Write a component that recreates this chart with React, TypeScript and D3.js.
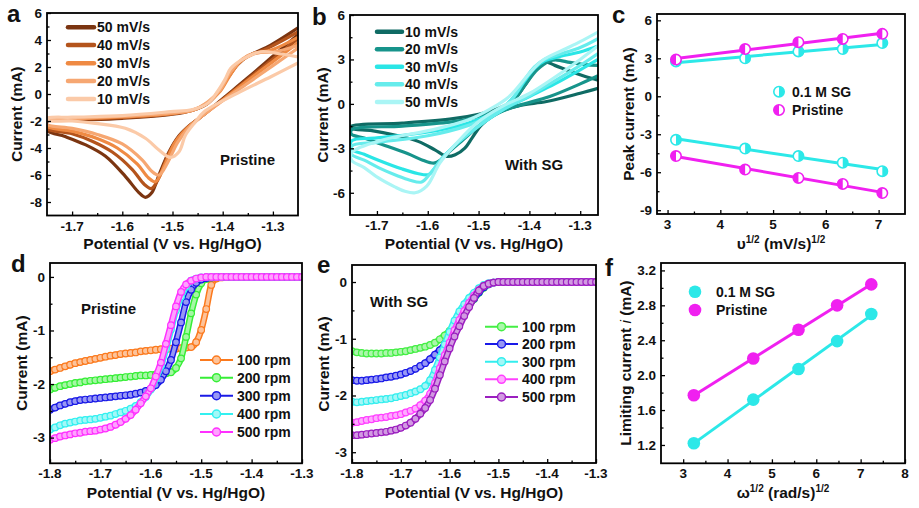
import { useEffect, useRef } from "react";
import * as d3 from "d3";

type Pt = [number, number];

const FONT = "Arial, 'Liberation Sans', Helvetica, sans-serif";

// ---------- (a) CV, pristine: [potential V, current mA], cathodic sweep then anodic sweep
const cvPristineLabels = ["50 mV/s", "40 mV/s", "30 mV/s", "20 mV/s", "10 mV/s"];
const cvPristineColors = ["#7b3511", "#b4541c", "#ef8a43", "#f6a772", "#fbcaa8"];
const cvPristine50: Pt[] = [
  [-1.25, 4.4], [-1.3, 2.8], [-1.35, 1.2], [-1.4, -0.35], [-1.44, -1.6], [-1.465, -2.3], [-1.487, -3.1],
  [-1.507, -4.3], [-1.527, -6.0], [-1.541, -7.3], [-1.554, -7.65], [-1.567, -7.3], [-1.594, -6.1],
  [-1.634, -4.6], [-1.674, -3.75], [-1.714, -3.15], [-1.75, -2.7],
  [-1.75, -2.05], [-1.7, -1.95], [-1.6, -1.8], [-1.5, -1.5], [-1.46, -1.2], [-1.43, -0.7], [-1.41, 0.1],
  [-1.39, 1.2], [-1.37, 2.2], [-1.35, 2.8], [-1.31, 3.5], [-1.25, 4.9],
];
const cvPristine40: Pt[] = [
  [-1.25, 4.1], [-1.3, 2.6], [-1.35, 1.1], [-1.4, -0.4], [-1.44, -1.6], [-1.47, -2.5], [-1.49, -3.3],
  [-1.51, -4.6], [-1.527, -6.2], [-1.542, -7.0], [-1.556, -6.7], [-1.58, -5.6], [-1.62, -4.3],
  [-1.66, -3.5], [-1.7, -2.95], [-1.75, -2.55],
  [-1.75, -2.0], [-1.7, -1.9], [-1.6, -1.75], [-1.5, -1.45], [-1.46, -1.2], [-1.43, -0.7], [-1.41, 0.1],
  [-1.39, 1.2], [-1.37, 2.2], [-1.35, 2.8], [-1.31, 3.4], [-1.25, 4.6],
];
const cvPristine30: Pt[] = [
  [-1.25, 3.8], [-1.3, 2.4], [-1.35, 1.0], [-1.4, -0.45], [-1.44, -1.6], [-1.47, -2.5], [-1.495, -3.6],
  [-1.515, -5.2], [-1.534, -6.5], [-1.548, -6.2], [-1.57, -5.2], [-1.61, -4.0], [-1.65, -3.3],
  [-1.7, -2.75], [-1.75, -2.4],
  [-1.75, -1.95], [-1.7, -1.85], [-1.6, -1.7], [-1.5, -1.45], [-1.46, -1.2], [-1.43, -0.65], [-1.405, 0.2],
  [-1.385, 1.4], [-1.365, 2.4], [-1.34, 2.95], [-1.3, 3.3], [-1.25, 4.2],
];
const cvPristine20: Pt[] = [
  [-1.25, 3.4], [-1.3, 2.1], [-1.35, 0.8], [-1.4, -0.5], [-1.44, -1.6], [-1.47, -2.6], [-1.49, -3.6],
  [-1.51, -5.1], [-1.527, -6.0], [-1.542, -5.7], [-1.56, -4.9], [-1.6, -3.7], [-1.65, -3.0],
  [-1.7, -2.55], [-1.75, -2.25],
  [-1.75, -1.9], [-1.7, -1.8], [-1.6, -1.65], [-1.5, -1.4], [-1.46, -1.2], [-1.43, -0.6], [-1.405, 0.3],
  [-1.385, 1.6], [-1.36, 2.6], [-1.335, 3.05], [-1.3, 3.1], [-1.25, 3.6],
];
const cvPristine10: Pt[] = [
  [-1.25, 2.3], [-1.304, 1.28], [-1.371, 0.05], [-1.437, -1.31], [-1.454, -2.05], [-1.474, -3.04],
  [-1.487, -4.27], [-1.504, -4.69], [-1.527, -4.15], [-1.554, -3.28], [-1.594, -2.54], [-1.654, -2.17],
  [-1.7, -2.0], [-1.75, -1.95],
  [-1.75, -1.8], [-1.7, -1.72], [-1.6, -1.6], [-1.504, -1.31], [-1.46, -1.15], [-1.43, -0.7], [-1.41, 0.2],
  [-1.395, 1.1], [-1.384, 1.9], [-1.357, 2.64], [-1.324, 3.13], [-1.29, 3.0], [-1.25, 2.75],
];
const cvPristineCurves = [cvPristine50, cvPristine40, cvPristine30, cvPristine20, cvPristine10];

// ---------- (b) CV, with SG
const cvSgLabels = ["10 mV/s", "20 mV/s", "30 mV/s", "40 mV/s", "50 mV/s"];
const cvSgColors = ["#0f6b64", "#17948b", "#2ae6e6", "#66ecec", "#aaf5f5"];
const cvSg10: Pt[] = [
  [-1.265, 1.05], [-1.3, 0.72], [-1.366, 0.16], [-1.418, -0.1], [-1.46, -0.55], [-1.494, -1.41],
  [-1.513, -2.31], [-1.527, -2.98], [-1.546, -3.43], [-1.563, -3.54], [-1.586, -3.1], [-1.619, -2.53],
  [-1.665, -2.1], [-1.71, -1.8], [-1.75, -1.65],
  [-1.75, -1.5], [-1.65, -1.3], [-1.55, -1.0], [-1.5, -0.7], [-1.46, -0.3], [-1.43, 0.3], [-1.41, 1.2],
  [-1.39, 2.2], [-1.372, 2.85], [-1.35, 2.6], [-1.32, 2.2], [-1.29, 1.85], [-1.265, 1.6],
];
const cvSg20: Pt[] = [
  [-1.265, 1.9], [-1.3, 1.35], [-1.36, 0.5], [-1.42, -0.1], [-1.46, -0.6], [-1.5, -1.5], [-1.53, -2.4],
  [-1.56, -3.3], [-1.575, -3.8], [-1.588, -4.0], [-1.61, -3.8], [-1.64, -3.35], [-1.697, -2.65],
  [-1.725, -2.3], [-1.75, -2.05],
  [-1.75, -1.75], [-1.65, -1.5], [-1.55, -1.2], [-1.5, -0.85], [-1.46, -0.35], [-1.43, 0.3], [-1.41, 1.2],
  [-1.385, 2.3], [-1.36, 2.9], [-1.346, 2.96], [-1.32, 2.8], [-1.29, 2.65], [-1.265, 2.6],
];
const cvSg30: Pt[] = [
  [-1.265, 3.0], [-1.3, 2.3], [-1.35, 1.35], [-1.4, 0.5], [-1.45, -0.35], [-1.5, -1.5], [-1.54, -2.6],
  [-1.57, -3.6], [-1.59, -4.5], [-1.599, -4.78], [-1.62, -4.7], [-1.65, -4.4], [-1.697, -3.8],
  [-1.725, -3.4], [-1.75, -3.05],
  [-1.75, -2.5], [-1.7, -2.3], [-1.6, -1.9], [-1.52, -1.3], [-1.48, -0.75], [-1.45, -0.2], [-1.43, 0.5],
  [-1.41, 1.5], [-1.39, 2.4], [-1.37, 2.9], [-1.34, 3.2], [-1.3, 3.5], [-1.265, 3.9],
];
const cvSg40: Pt[] = [
  [-1.265, 3.4], [-1.3, 2.6], [-1.35, 1.55], [-1.4, 0.55], [-1.45, -0.35], [-1.5, -1.5], [-1.54, -2.6],
  [-1.57, -3.6], [-1.595, -4.7], [-1.612, -5.27], [-1.635, -5.15], [-1.66, -4.85], [-1.697, -4.3],
  [-1.725, -3.8], [-1.75, -3.4],
  [-1.75, -2.85], [-1.7, -2.6], [-1.6, -2.15], [-1.52, -1.45], [-1.48, -0.85], [-1.45, -0.25], [-1.43, 0.5],
  [-1.41, 1.6], [-1.39, 2.5], [-1.37, 3.0], [-1.34, 3.35], [-1.3, 3.8], [-1.265, 4.4],
];
const cvSg50: Pt[] = [
  [-1.265, 3.9], [-1.3, 3.0], [-1.35, 1.8], [-1.4, 0.7], [-1.455, -0.2], [-1.504, -1.3], [-1.543, -2.64],
  [-1.576, -3.98], [-1.602, -5.55], [-1.625, -6.0], [-1.645, -5.9], [-1.665, -5.6], [-1.697, -5.0],
  [-1.725, -4.3], [-1.75, -3.8],
  [-1.75, -3.3], [-1.687, -2.42], [-1.589, -1.74], [-1.52, -1.07], [-1.48, -0.4], [-1.44, 0.49],
  [-1.4, 2.06], [-1.374, 2.95], [-1.335, 3.62], [-1.3, 4.2], [-1.265, 4.85],
];
const cvSgCurves = [cvSg10, cvSg20, cvSg30, cvSg40, cvSg50];

// ---------- (c) peak current vs sqrt(scan rate)
const sqrtScanRate = [3.16, 4.47, 5.48, 6.32, 7.07];
const peakSgAnodic = [2.75, 3.0, 3.54, 3.73, 4.2];
const peakSgCathodic = [-3.44, -4.13, -4.72, -5.25, -5.92];
const peakPristineAnodic = [2.9, 3.73, 4.27, 4.53, 4.93];
const peakPristineCathodic = [-4.72, -5.79, -6.45, -6.93, -7.65];

// ---------- (d)(e) LSV at 0.01 V steps
const lsvPotentials = [
  -1.8, -1.79, -1.78, -1.77, -1.76, -1.75, -1.74, -1.73, -1.72, -1.71, -1.7, -1.69, -1.68, -1.67, -1.66,
  -1.65, -1.64, -1.63, -1.62, -1.61, -1.6, -1.59, -1.58, -1.57, -1.56, -1.55, -1.54, -1.53, -1.52, -1.51,
  -1.5, -1.49, -1.48, -1.47, -1.46, -1.45, -1.44, -1.43, -1.42, -1.41, -1.4, -1.39, -1.38, -1.37, -1.36,
  -1.35, -1.34, -1.33, -1.32, -1.31, -1.3,
];
const rpmLabels = ["100 rpm", "200 rpm", "300 rpm", "400 rpm", "500 rpm"];

const lsvPristineColors = ["#fb7a1e", "#36ee36", "#1a1ae6", "#33f0f0", "#ff30ff"];
const lsvPristine100 = [
  -1.76, -1.73, -1.7, -1.67, -1.64, -1.61, -1.59, -1.57, -1.55, -1.53, -1.51, -1.49, -1.47, -1.46, -1.44,
  -1.43, -1.42, -1.41, -1.39, -1.38, -1.37, -1.36, -1.35, -1.35, -1.34, -1.34, -1.33, -1.32, -1.31, -1.22,
  -0.99, -0.6, -0.15, -0.03, -0.01, 0, 0, 0, 0, 0, 0, 0, 0, 0, 0, 0, 0, 0, 0, 0, 0,
];
const lsvPristine200 = [
  -2.1, -2.07, -2.04, -2.02, -2.0, -1.98, -1.97, -1.95, -1.94, -1.93, -1.92, -1.91, -1.9, -1.89, -1.88,
  -1.87, -1.86, -1.85, -1.84, -1.84, -1.83, -1.82, -1.81, -1.8, -1.78, -1.7, -1.52, -1.12, -0.68, -0.33,
  -0.12, -0.04, -0.01, 0, 0, 0, 0, 0, 0, 0, 0, 0, 0, 0, 0, 0, 0, 0, 0, 0, 0,
];
const lsvPristine300 = [
  -2.48, -2.44, -2.4, -2.37, -2.34, -2.32, -2.3, -2.29, -2.28, -2.27, -2.26, -2.25, -2.24, -2.23, -2.22,
  -2.21, -2.2, -2.18, -2.16, -2.13, -2.09, -2.02, -1.92, -1.76, -1.55, -1.22, -0.85, -0.47, -0.24, -0.11,
  -0.05, -0.02, -0.01, 0, 0, 0, 0, 0, 0, 0, 0, 0, 0, 0, 0, 0, 0, 0, 0, 0, 0,
];
const lsvPristine400 = [
  -2.85, -2.81, -2.77, -2.74, -2.72, -2.7, -2.68, -2.67, -2.66, -2.65, -2.63, -2.61, -2.59, -2.56, -2.53,
  -2.5, -2.46, -2.41, -2.34, -2.24, -2.1, -1.9, -1.67, -1.35, -0.98, -0.62, -0.37, -0.18, -0.07, -0.03,
  -0.01, 0, 0, 0, 0, 0, 0, 0, 0, 0, 0, 0, 0, 0, 0, 0, 0, 0, 0, 0, 0,
];
const lsvPristine500 = [
  -3.04, -3.01, -2.98, -2.96, -2.94, -2.92, -2.91, -2.89, -2.88, -2.87, -2.85, -2.83, -2.8, -2.76, -2.71,
  -2.65, -2.58, -2.48, -2.36, -2.23, -2.08, -1.86, -1.6, -1.25, -0.9, -0.55, -0.28, -0.14, -0.07, -0.03,
  -0.01, 0, 0, 0, 0, 0, 0, 0, 0, 0, 0, 0, 0, 0, 0, 0, 0, 0, 0, 0, 0,
];
const lsvPristineCurves = [lsvPristine100, lsvPristine200, lsvPristine300, lsvPristine400, lsvPristine500];

const lsvSgColors = ["#44ee44", "#1a1ae8", "#33eeee", "#ff40ff", "#9b1fbf"];
const lsvSg100 = [
  -1.22, -1.24, -1.25, -1.26, -1.26, -1.26, -1.26, -1.25, -1.25, -1.24, -1.23, -1.22, -1.2, -1.18, -1.16,
  -1.14, -1.11, -1.07, -1.01, -0.94, -0.86, -0.76, -0.64, -0.52, -0.41, -0.3, -0.19, -0.1, -0.04, -0.01,
  0, 0, 0, 0, 0, 0, 0, 0, 0, 0, 0, 0, 0, 0, 0, 0, 0, 0, 0, 0, 0,
];
const lsvSg200 = [
  -1.73, -1.74, -1.74, -1.73, -1.72, -1.71, -1.7, -1.68, -1.67, -1.65, -1.63, -1.6, -1.57, -1.53, -1.48,
  -1.43, -1.36, -1.28, -1.2, -1.1, -0.97, -0.83, -0.68, -0.54, -0.41, -0.29, -0.18, -0.09, -0.04, -0.01,
  0, 0, 0, 0, 0, 0, 0, 0, 0, 0, 0, 0, 0, 0, 0, 0, 0, 0, 0, 0, 0,
];
const lsvSg300 = [
  -2.11, -2.12, -2.11, -2.1, -2.09, -2.08, -2.07, -2.06, -2.05, -2.03, -2.01, -1.99, -1.96, -1.93, -1.89,
  -1.83, -1.73, -1.55, -1.33, -1.1, -0.88, -0.68, -0.52, -0.39, -0.28, -0.19, -0.11, -0.05, -0.02, -0.01,
  0, 0, 0, 0, 0, 0, 0, 0, 0, 0, 0, 0, 0, 0, 0, 0, 0, 0, 0, 0, 0,
];
const lsvSg400 = [
  -2.48, -2.47, -2.45, -2.43, -2.42, -2.4, -2.39, -2.38, -2.36, -2.35, -2.33, -2.3, -2.27, -2.23, -2.17,
  -2.09, -1.97, -1.78, -1.52, -1.29, -1.07, -0.85, -0.67, -0.51, -0.37, -0.24, -0.14, -0.07, -0.03, -0.01,
  0, 0, 0, 0, 0, 0, 0, 0, 0, 0, 0, 0, 0, 0, 0, 0, 0, 0, 0, 0, 0,
];
const lsvSg500 = [
  -2.7, -2.7, -2.69, -2.68, -2.67, -2.66, -2.65, -2.64, -2.62, -2.6, -2.57, -2.53, -2.48, -2.41, -2.32,
  -2.22, -2.08, -1.88, -1.64, -1.4, -1.17, -0.96, -0.78, -0.6, -0.44, -0.28, -0.15, -0.07, -0.03, -0.01,
  0, 0, 0, 0, 0, 0, 0, 0, 0, 0, 0, 0, 0, 0, 0, 0, 0, 0, 0, 0, 0,
];
const lsvSgCurves = [lsvSg100, lsvSg200, lsvSg300, lsvSg400, lsvSg500];

// ---------- (f) limiting current vs sqrt(rotation rate)
const sqrtRotation = [3.24, 4.58, 5.6, 6.47, 7.24];
const limitingSg = [1.22, 1.72, 2.07, 2.39, 2.7];
const limitingPristine = [1.77, 2.19, 2.52, 2.8, 3.04];

const CYAN = "#2ce8e8";
const MAGENTA = "#f020f0";

interface Box { l: number; t: number; r: number; b: number }
interface PanelCfg {
  id: string;
  box: Box;
  xDomain: [number, number];
  yDomain: [number, number];
  xTicks: number[];
  xMinor: number[];
  yTicks: number[];
  yMinor: number[];
  xFmt: (d: number) => string;
  yFmt: (d: number) => string;
}

function makePanel(svg: any, cfg: PanelCfg) {
  const { box } = cfg;
  const x = d3.scaleLinear().domain(cfg.xDomain).range([box.l, box.r]);
  const y = d3.scaleLinear().domain(cfg.yDomain).range([box.b, box.t]);

  svg
    .select("defs")
    .append("clipPath")
    .attr("id", cfg.id)
    .append("rect")
    .attr("x", box.l)
    .attr("y", box.t)
    .attr("width", box.r - box.l)
    .attr("height", box.b - box.t);

  const plot = svg.append("g").attr("clip-path", `url(#${cfg.id})`);
  return { x, y, plot, cfg };
}

function finishPanel(svg: any, p: any) {
  const { x, y, cfg } = p;
  const { box } = cfg;
  const g = svg.append("g");

  // inward ticks
  const addAxis = (axis: any, tr: string) => {
    const a = g.append("g").attr("transform", tr).call(axis);
    a.select(".domain").remove();
    a.selectAll("line").attr("stroke", "#000").attr("stroke-width", 1.3);
    a.selectAll("text").remove();
  };
  addAxis(d3.axisTop(x).tickValues(cfg.xTicks).tickSize(4).tickSizeOuter(0), `translate(0,${box.b})`);
  addAxis(d3.axisTop(x).tickValues(cfg.xMinor).tickSize(2.5).tickSizeOuter(0), `translate(0,${box.b})`);
  addAxis(d3.axisRight(y).tickValues(cfg.yTicks).tickSize(4).tickSizeOuter(0), `translate(${box.l},0)`);
  addAxis(d3.axisRight(y).tickValues(cfg.yMinor).tickSize(2.5).tickSizeOuter(0), `translate(${box.l},0)`);

  g.append("rect")
    .attr("x", box.l)
    .attr("y", box.t)
    .attr("width", box.r - box.l)
    .attr("height", box.b - box.t)
    .attr("fill", "none")
    .attr("stroke", "#000")
    .attr("stroke-width", 1.8);

  g.selectAll(".xl")
    .data(cfg.xTicks)
    .join("text")
    .attr("x", (d: number) => x(d))
    .attr("y", box.b + 15)
    .attr("text-anchor", "middle")
    .attr("font-family", FONT)
    .attr("font-weight", "bold")
    .attr("font-size", 13.5)
    .attr("fill", "#111")
    .text((d: number) => cfg.xFmt(d));

  g.selectAll(".yl")
    .data(cfg.yTicks)
    .join("text")
    .attr("x", box.l - 5)
    .attr("y", (d: number) => y(d))
    .attr("dy", "0.36em")
    .attr("text-anchor", "end")
    .attr("font-family", FONT)
    .attr("font-weight", "bold")
    .attr("font-size", 13.5)
    .attr("fill", "#111")
    .text((d: number) => cfg.yFmt(d));
}

function addText(svg: any, x: number, y: number, txt: string, size: number, anchor = "start") {
  return svg
    .append("text")
    .attr("x", x)
    .attr("y", y)
    .attr("text-anchor", anchor)
    .attr("font-family", FONT)
    .attr("font-weight", "bold")
    .attr("font-size", size)
    .attr("fill", "#111")
    .text(txt);
}

function addYTitle(svg: any, x: number, box: Box, txt: string) {
  return svg
    .append("text")
    .attr("transform", `translate(${x},${(box.t + box.b) / 2}) rotate(-90)`)
    .attr("dy", "0.36em")
    .attr("text-anchor", "middle")
    .attr("font-family", FONT)
    .attr("font-weight", "bold")
    .attr("font-size", 15.5)
    .attr("fill", "#111")
    .text(txt);
}

const fmtDec1 = (d: number) => d3.format(".1f")(d).replace("−", "-");
const fmtInt = (d: number) => d3.format("d")(d).replace("−", "-");

function drawCV(p: any, curves: Pt[][], colors: string[]) {
  const line = d3
    .line<Pt>()
    .x((d) => p.x(d[0]))
    .y((d) => p.y(d[1]))
    .curve(d3.curveCatmullRom.alpha(0.5));
  curves.forEach((c, i) => {
    p.plot
      .append("path")
      .attr("d", line(c))
      .attr("fill", "none")
      .attr("stroke", colors[i])
      .attr("stroke-width", 3.2)
      .attr("stroke-linejoin", "round");
  });
}

function drawCVLegend(svg: any, labels: string[], colors: string[], x0: number, x1: number, ys: number[]) {
  labels.forEach((lab, i) => {
    svg
      .append("line")
      .attr("x1", x0)
      .attr("x2", x1)
      .attr("y1", ys[i])
      .attr("y2", ys[i])
      .attr("stroke", colors[i])
      .attr("stroke-width", 4.5)
      .attr("stroke-linecap", "round");
    addText(svg, x1 + 3, ys[i] + 5, lab, 14);
  });
}

function ballFill(c: string) {
  return d3.interpolateRgb(c, "#ffffff")(0.55);
}

function drawLSV(p: any, curves: number[][], colors: string[]) {
  const line = d3
    .line<Pt>()
    .x((d) => p.x(d[0]))
    .y((d) => p.y(d[1]))
    .curve(d3.curveMonotoneX);
  curves.forEach((vals, i) => {
    const pts: Pt[] = vals.map((v, k) => [lsvPotentials[k], v]);
    const g = p.plot.append("g");
    // tube of overlapping symbols: coloured rim with a light core
    g.append("path")
      .attr("d", line(pts))
      .attr("fill", "none")
      .attr("stroke", colors[i])
      .attr("stroke-width", 6.6)
      .attr("stroke-linejoin", "round");
    g.append("path")
      .attr("d", line(pts))
      .attr("fill", "none")
      .attr("stroke", ballFill(colors[i]))
      .attr("stroke-width", 3.6)
      .attr("stroke-linejoin", "round");
    g.selectAll("circle")
      .data(pts)
      .join("circle")
      .attr("cx", (d: Pt) => p.x(d[0]))
      .attr("cy", (d: Pt) => p.y(d[1]))
      .attr("r", 3.3)
      .attr("fill", ballFill(colors[i]))
      .attr("stroke", colors[i])
      .attr("stroke-width", 1.2);
  });
}

function drawLSVLegend(svg: any, colors: string[], x0: number, x1: number, ys: number[]) {
  rpmLabels.forEach((lab, i) => {
    svg
      .append("line")
      .attr("x1", x0)
      .attr("x2", x1)
      .attr("y1", ys[i])
      .attr("y2", ys[i])
      .attr("stroke", colors[i])
      .attr("stroke-width", 2);
    svg
      .append("circle")
      .attr("cx", (x0 + x1) / 2)
      .attr("cy", ys[i])
      .attr("r", 4)
      .attr("fill", ballFill(colors[i]))
      .attr("stroke", colors[i])
      .attr("stroke-width", 1.5);
    addText(svg, x1 + 4, ys[i] + 5, lab, 14);
  });
}

function fit(xs: number[], ys: number[]) {
  const mx = d3.mean(xs)!;
  const my = d3.mean(ys)!;
  const sxy = d3.sum(xs, (v, i) => (v - mx) * (ys[i] - my));
  const sxx = d3.sum(xs, (v) => (v - mx) * (v - mx));
  const k = sxy / sxx;
  return (v: number) => my + k * (v - mx);
}

function halfMarker(g: any, cx: number, cy: number, r: number, color: string, leftFilled: boolean) {
  g.append("circle")
    .attr("cx", cx)
    .attr("cy", cy)
    .attr("r", r)
    .attr("fill", "#fff")
    .attr("stroke", color)
    .attr("stroke-width", 1.6);
  g.append("path")
    .attr("d", `M${cx},${cy - r} A${r},${r} 0 0 ${leftFilled ? 0 : 1} ${cx},${cy + r} Z`)
    .attr("fill", color);
}

export default function App() {
  const ref = useRef<SVGSVGElement | null>(null);

  useEffect(() => {
    if (!ref.current) return;
    const svg = d3.select(ref.current);
    svg.selectAll("*").remove();
    svg.append("defs");
    svg.append("rect").attr("width", 919).attr("height", 508).attr("fill", "#fff");

    // ---------- (a)
    const pa = makePanel(svg, {
      id: "clipA",
      box: { l: 47, t: 13, r: 298, b: 215.5 },
      xDomain: [-1.75, -1.25],
      yDomain: [-9, 6],
      xTicks: [-1.7, -1.6, -1.5, -1.4, -1.3],
      xMinor: [-1.65, -1.55, -1.45, -1.35],
      yTicks: [-8, -6, -4, -2, 0, 2, 4, 6],
      yMinor: [-7, -5, -3, -1, 1, 3, 5],
      xFmt: fmtDec1,
      yFmt: fmtInt,
    });
    drawCV(pa, cvPristineCurves, cvPristineColors);
    finishPanel(svg, pa);
    drawCVLegend(svg, cvPristineLabels, cvPristineColors, 68, 94, [27.3, 45, 63.3, 81, 99]);
    addText(svg, 220, 165, "Pristine", 15);
    addText(svg, 172.5, 249, "Potential (V vs. Hg/HgO)", 15.5, "middle");
    addYTitle(svg, 16, pa.cfg.box, "Current (mA)");
    addText(svg, 7, 22, "a", 24);

    // ---------- (b)
    const pb = makePanel(svg, {
      id: "clipB",
      box: { l: 350, t: 15, r: 598, b: 215 },
      xDomain: [-1.753, -1.265],
      yDomain: [-7.5, 6],
      xTicks: [-1.7, -1.6, -1.5, -1.4, -1.3],
      xMinor: [-1.65, -1.55, -1.45, -1.35],
      yTicks: [-6, -3, 0, 3, 6],
      yMinor: [-4.5, -1.5, 1.5, 4.5],
      xFmt: fmtDec1,
      yFmt: fmtInt,
    });
    drawCV(pb, cvSgCurves, cvSgColors);
    finishPanel(svg, pb);
    drawCVLegend(svg, cvSgLabels, cvSgColors, 377, 402, [31.7, 49.3, 66.7, 84.3, 102]);
    addText(svg, 505, 170, "With SG", 15);
    addText(svg, 474, 249, "Potential (V vs. Hg/HgO)", 15.5, "middle");
    addYTitle(svg, 322, pb.cfg.box, "Current (mA)");
    addText(svg, 312, 25, "b", 24);

    // ---------- (c)
    const pc = makePanel(svg, {
      id: "clipC",
      box: { l: 657, t: 14, r: 905, b: 214 },
      xDomain: [2.8, 7.5],
      yDomain: [-9.3, 6.5],
      xTicks: [3, 4, 5, 6, 7],
      xMinor: [3.5, 4.5, 5.5, 6.5],
      yTicks: [-9, -6, -3, 0, 3, 6],
      yMinor: [-7.5, -4.5, -1.5, 1.5, 4.5],
      xFmt: fmtInt,
      yFmt: fmtInt,
    });
    const cSeries: { ys: number[]; color: string; left: boolean }[] = [
      { ys: peakSgAnodic, color: CYAN, left: false },
      { ys: peakSgCathodic, color: CYAN, left: false },
      { ys: peakPristineAnodic, color: MAGENTA, left: true },
      { ys: peakPristineCathodic, color: MAGENTA, left: true },
    ];
    cSeries.forEach((s) => {
      const f = fit(sqrtScanRate, s.ys);
      const x0 = sqrtScanRate[0];
      const x1 = sqrtScanRate[sqrtScanRate.length - 1];
      pc.plot
        .append("line")
        .attr("x1", pc.x(x0))
        .attr("x2", pc.x(x1))
        .attr("y1", pc.y(f(x0)))
        .attr("y2", pc.y(f(x1)))
        .attr("stroke", s.color)
        .attr("stroke-width", 3);
    });
    cSeries.forEach((s) => {
      s.ys.forEach((v, i) => halfMarker(pc.plot, pc.x(sqrtScanRate[i]), pc.y(v), 5.2, s.color, s.left));
    });
    finishPanel(svg, pc);
    halfMarker(svg, 779, 91.7, 5.2, CYAN, false);
    halfMarker(svg, 779, 110, 5.2, MAGENTA, true);
    addText(svg, 792, 96.5, "0.1 M SG", 14);
    addText(svg, 792, 115, "Pristine", 14);
    const cx = addText(svg, 781, 249, "", 15.5, "middle");
    cx.append("tspan").text("υ");
    cx.append("tspan").attr("font-size", 10).attr("dy", -6).text("1/2");
    cx.append("tspan").attr("dy", 6).text(" (mV/s)");
    cx.append("tspan").attr("font-size", 10).attr("dy", -6).text("1/2");
    addYTitle(svg, 628, pc.cfg.box, "Peak current (mA)");
    addText(svg, 612, 23, "c", 24);

    // ---------- (d)
    const pd = makePanel(svg, {
      id: "clipD",
      box: { l: 50, t: 263, r: 302, b: 463.3 },
      xDomain: [-1.8, -1.3],
      yDomain: [-3.48, 0.26],
      xTicks: [-1.8, -1.7, -1.6, -1.5, -1.4, -1.3],
      xMinor: [-1.75, -1.65, -1.55, -1.45, -1.35],
      yTicks: [0, -1, -2, -3],
      yMinor: [-0.5, -1.5, -2.5],
      xFmt: fmtDec1,
      yFmt: fmtInt,
    });
    drawLSV(pd, lsvPristineCurves, lsvPristineColors);
    finishPanel(svg, pd);
    drawLSVLegend(svg, lsvPristineColors, 200, 233, [360, 377.7, 395.7, 414, 432]);
    addText(svg, 81, 314, "Pristine", 15);
    addText(svg, 176, 498, "Potential (V vs. Hg/HgO)", 15.5, "middle");
    addYTitle(svg, 21, pd.cfg.box, "Current (mA)");
    addText(svg, 11, 272, "d", 24);

    // ---------- (e)
    const pe = makePanel(svg, {
      id: "clipE",
      box: { l: 352, t: 265, r: 596, b: 463 },
      xDomain: [-1.8, -1.3],
      yDomain: [-3.19, 0.3],
      xTicks: [-1.8, -1.7, -1.6, -1.5, -1.4, -1.3],
      xMinor: [-1.75, -1.65, -1.55, -1.45, -1.35],
      yTicks: [0, -1, -2, -3],
      yMinor: [-0.5, -1.5, -2.5],
      xFmt: fmtDec1,
      yFmt: fmtInt,
    });
    drawLSV(pe, lsvSgCurves, lsvSgColors);
    finishPanel(svg, pe);
    drawLSVLegend(svg, lsvSgColors, 485, 518, [326.7, 344, 361.7, 379.3, 397]);
    addText(svg, 370, 307, "With SG", 15);
    addText(svg, 474, 498, "Potential (V vs. Hg/HgO)", 15.5, "middle");
    addYTitle(svg, 323, pe.cfg.box, "Current (mA)");
    addText(svg, 317, 273, "e", 24);

    // ---------- (f)
    const pf = makePanel(svg, {
      id: "clipF",
      box: { l: 661, t: 263, r: 905, b: 463.3 },
      xDomain: [2.5, 8],
      yDomain: [0.99, 3.285],
      xTicks: [3, 4, 5, 6, 7, 8],
      xMinor: [3.5, 4.5, 5.5, 6.5, 7.5],
      yTicks: [1.2, 1.6, 2.0, 2.4, 2.8, 3.2],
      yMinor: [1.4, 1.8, 2.2, 2.6, 3.0],
      xFmt: fmtInt,
      yFmt: fmtDec1,
    });
    const fSeries = [
      { ys: limitingSg, color: CYAN },
      { ys: limitingPristine, color: MAGENTA },
    ];
    fSeries.forEach((s) => {
      const f = fit(sqrtRotation, s.ys);
      const x0 = sqrtRotation[0];
      const x1 = sqrtRotation[sqrtRotation.length - 1];
      pf.plot
        .append("line")
        .attr("x1", pf.x(x0))
        .attr("x2", pf.x(x1))
        .attr("y1", pf.y(f(x0)))
        .attr("y2", pf.y(f(x1)))
        .attr("stroke", s.color)
        .attr("stroke-width", 3);
      pf.plot
        .append("g")
        .selectAll("circle")
        .data(s.ys)
        .join("circle")
        .attr("cx", (_: number, i: number) => pf.x(sqrtRotation[i]))
        .attr("cy", (d: number) => pf.y(d))
        .attr("r", 6.3)
        .attr("fill", s.color);
    });
    finishPanel(svg, pf);
    svg.append("circle").attr("cx", 695).attr("cy", 291.7).attr("r", 6.3).attr("fill", CYAN);
    svg.append("circle").attr("cx", 695).attr("cy", 310).attr("r", 6.3).attr("fill", MAGENTA);
    addText(svg, 716, 296.5, "0.1 M SG", 14);
    addText(svg, 716, 315, "Pristine", 14);
    const fx = addText(svg, 783, 498, "", 15.5, "middle");
    fx.append("tspan").text("ω");
    fx.append("tspan").attr("font-size", 10).attr("dy", -6).text("1/2");
    fx.append("tspan").attr("dy", 6).text(" (rad/s)");
    fx.append("tspan").attr("font-size", 10).attr("dy", -6).text("1/2");
    const fy = addYTitle(svg, 625, pf.cfg.box, "");
    fy.append("tspan").text("Limiting current ");
    fy.append("tspan").attr("font-style", "italic").attr("font-weight", "normal").text("i");
    fy.append("tspan").text(" (mA)");
    addText(svg, 605, 276, "f", 24);
  }, []);

  return (
    <svg
      ref={ref}
      width={919}
      height={508}
      style={{ position: "absolute", left: 0, top: 0, background: "#fff" }}
    />
  );
}
